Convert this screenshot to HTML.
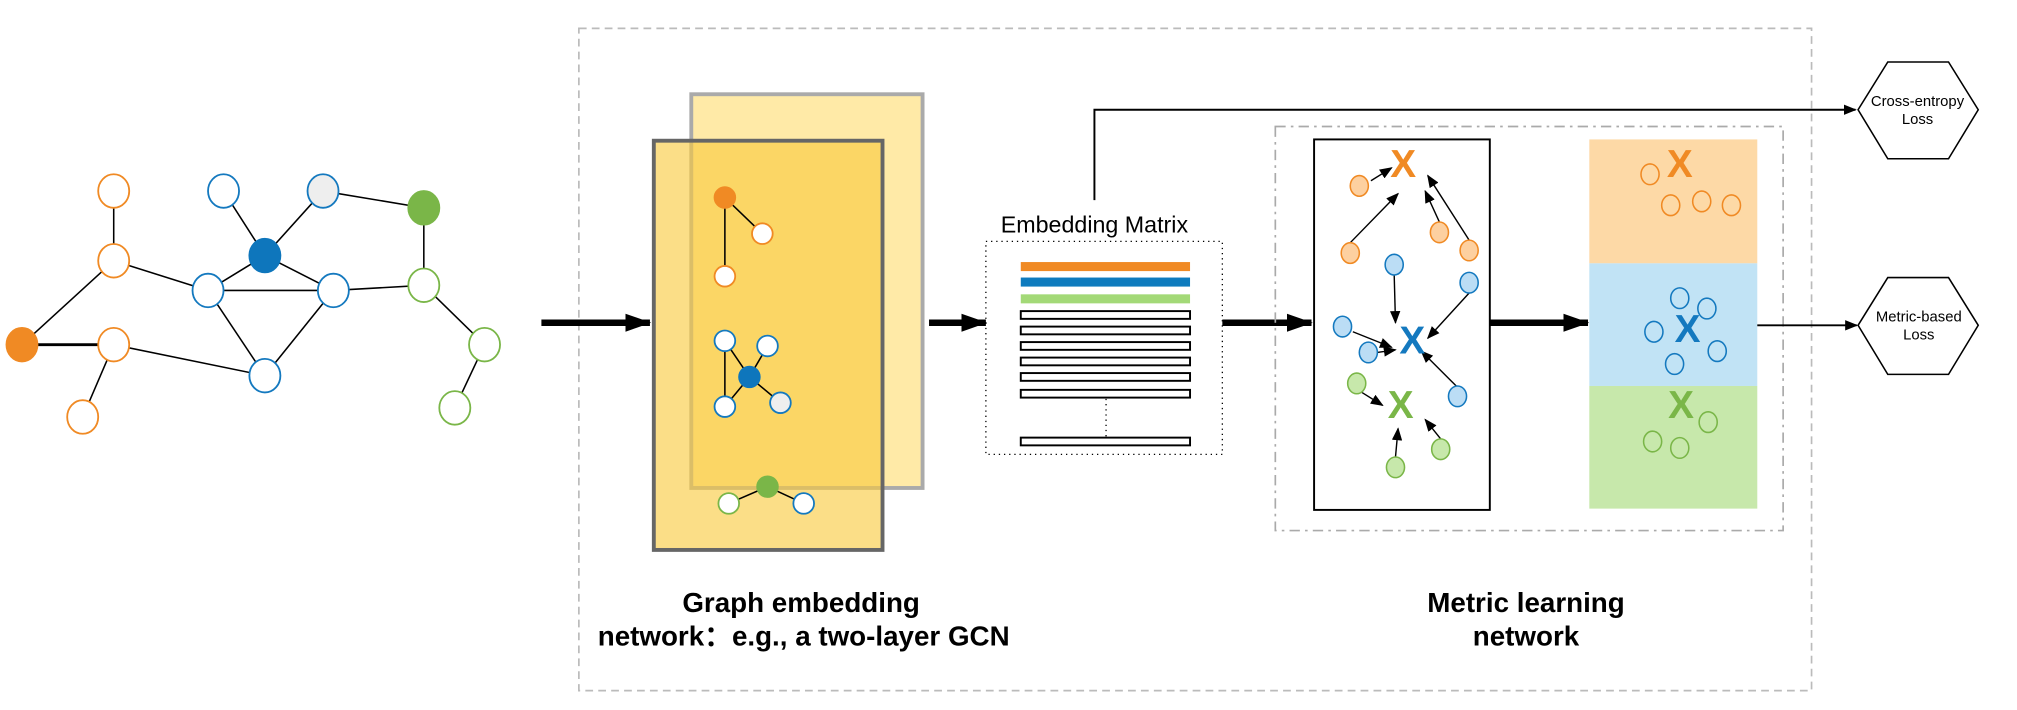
<!DOCTYPE html>
<html><head><meta charset="utf-8"><style>html,body{margin:0;padding:0;background:#fff}svg{display:block}</style></head>
<body>
<svg width="2017" height="710" viewBox="0 0 1561 550" preserveAspectRatio="none" xmlns="http://www.w3.org/2000/svg" font-family="Liberation Sans, sans-serif">
<defs>
<marker id="a" markerWidth="10" markerHeight="8" refX="9" refY="4" orient="auto" markerUnits="userSpaceOnUse"><path d="M0,0 L10,4 L0,8 z" fill="#000"/></marker>
<marker id="b" markerWidth="20" markerHeight="14" refX="19" refY="7" orient="auto" markerUnits="userSpaceOnUse"><path d="M0,0 L20,7 L0,14 z" fill="#000"/></marker>
</defs>
<rect x="448" y="22" width="954" height="513" fill="none" stroke="#bbb" stroke-width="1.3" stroke-dasharray="6,4"/>
<g stroke="#000" stroke-width="1.2">
<line x1="88" y1="148" x2="88" y2="202"/><line x1="88" y1="202" x2="161" y2="225"/><line x1="88" y1="202" x2="17" y2="267"/>
<line x1="17" y1="267" x2="88" y2="267" stroke-width="2.2"/><line x1="88" y1="267" x2="205" y2="291"/><line x1="88" y1="267" x2="64" y2="323"/>
<line x1="173" y1="148" x2="205" y2="198"/><line x1="250" y1="148" x2="205" y2="198"/><line x1="205" y1="198" x2="161" y2="225"/>
<line x1="205" y1="198" x2="258" y2="225"/><line x1="161" y1="225" x2="258" y2="225"/><line x1="161" y1="225" x2="205" y2="291"/>
<line x1="258" y1="225" x2="205" y2="291"/><line x1="258" y1="225" x2="328" y2="221"/><line x1="250" y1="148" x2="328" y2="161"/>
<line x1="328" y1="161" x2="328" y2="221"/><line x1="328" y1="221" x2="375" y2="267"/><line x1="375" y1="267" x2="352" y2="316"/>
</g>
<g stroke-width="1.4">
<ellipse cx="88" cy="148" rx="12" ry="13" fill="#fff" stroke="#F08A24"/>
<ellipse cx="88" cy="202" rx="12" ry="13" fill="#fff" stroke="#F08A24"/>
<ellipse cx="88" cy="267" rx="12" ry="13" fill="#fff" stroke="#F08A24"/>
<ellipse cx="64" cy="323" rx="12" ry="13" fill="#fff" stroke="#F08A24"/>
<ellipse cx="17" cy="267" rx="12" ry="13" fill="#F08A24" stroke="#F08A24"/>
<ellipse cx="173" cy="148" rx="12" ry="13" fill="#fff" stroke="#1479BF"/>
<ellipse cx="161" cy="225" rx="12" ry="13" fill="#fff" stroke="#1479BF"/>
<ellipse cx="258" cy="225" rx="12" ry="13" fill="#fff" stroke="#1479BF"/>
<ellipse cx="205" cy="291" rx="12" ry="13" fill="#fff" stroke="#1479BF"/>
<ellipse cx="250" cy="148" rx="12" ry="13" fill="#eee" stroke="#1479BF"/>
<ellipse cx="205" cy="198" rx="12" ry="13" fill="#0E76BC" stroke="#0E76BC"/>
<ellipse cx="328" cy="161" rx="12" ry="13" fill="#7AB648" stroke="#7AB648"/>
<ellipse cx="328" cy="221" rx="12" ry="13" fill="#fff" stroke="#7AB648"/>
<ellipse cx="375" cy="267" rx="12" ry="13" fill="#fff" stroke="#7AB648"/>
<ellipse cx="352" cy="316" rx="12" ry="13" fill="#fff" stroke="#7AB648"/>
</g>
<line x1="419" y1="250" x2="503" y2="250" stroke="#000" stroke-width="5" marker-end="url(#b)"/>
<rect x="535" y="73" width="179" height="305" fill="#FFEAA7" stroke="#aaa" stroke-width="3"/>
<rect x="506" y="109" width="177" height="317" fill="#F9C93E" fill-opacity="0.62" stroke="#666" stroke-width="3"/>
<g stroke="#000" stroke-width="1.2">
<line x1="561" y1="153" x2="561" y2="214"/><line x1="561" y1="153" x2="590" y2="181"/>
<line x1="561" y1="264" x2="561" y2="315"/><line x1="561" y1="264" x2="580" y2="292"/><line x1="594" y1="268" x2="580" y2="292"/>
<line x1="580" y1="292" x2="561" y2="315"/><line x1="580" y1="292" x2="604" y2="312"/>
<line x1="594" y1="377" x2="564" y2="390"/><line x1="594" y1="377" x2="622" y2="390"/>
</g>
<g stroke-width="1.4">
<ellipse cx="561" cy="153" rx="8" ry="8" fill="#F08A24" stroke="#F08A24"/>
<ellipse cx="590" cy="181" rx="8" ry="8" fill="#fff" stroke="#F08A24"/>
<ellipse cx="561" cy="214" rx="8" ry="8" fill="#fff" stroke="#F08A24"/>
<ellipse cx="561" cy="264" rx="8" ry="8" fill="#fff" stroke="#1479BF"/>
<ellipse cx="594" cy="268" rx="8" ry="8" fill="#fff" stroke="#1479BF"/>
<ellipse cx="561" cy="315" rx="8" ry="8" fill="#fff" stroke="#1479BF"/>
<ellipse cx="604" cy="312" rx="8" ry="8" fill="#eee" stroke="#1479BF"/>
<ellipse cx="580" cy="292" rx="8" ry="8" fill="#0E76BC" stroke="#0E76BC"/>
<ellipse cx="594" cy="377" rx="8" ry="8" fill="#7AB648" stroke="#7AB648"/>
<ellipse cx="564" cy="390" rx="8" ry="8" fill="#fff" stroke="#7AB648"/>
<ellipse cx="622" cy="390" rx="8" ry="8" fill="#fff" stroke="#1479BF"/>
</g>
<line x1="719" y1="250" x2="763" y2="250" stroke="#000" stroke-width="5" marker-end="url(#b)"/>
<text x="847" y="180" font-size="18" text-anchor="middle" fill="#000">Embedding Matrix</text>
<rect x="763" y="187" width="183" height="165" fill="none" stroke="#000" stroke-width="1" stroke-dasharray="1,3"/>
<rect x="790" y="203" width="131" height="7" fill="#F08A24"/>
<rect x="790" y="215" width="131" height="7" fill="#0E7BBE"/>
<rect x="790" y="228" width="131" height="7" fill="#A3D977"/>
<g fill="#fff" stroke="#000" stroke-width="1.5">
<rect x="790" y="241" width="131" height="6"/><rect x="790" y="253" width="131" height="6"/><rect x="790" y="265" width="131" height="6"/>
<rect x="790" y="277" width="131" height="6"/><rect x="790" y="289" width="131" height="6"/><rect x="790" y="302" width="131" height="6"/>
<rect x="790" y="339" width="131" height="6"/>
</g>
<line x1="856" y1="309" x2="856" y2="338" stroke="#000" stroke-width="1" stroke-dasharray="1,3"/>
<polyline points="847,155 847,85 1436,85" fill="none" stroke="#000" stroke-width="1.5" marker-end="url(#a)"/>
<line x1="946" y1="250" x2="1015" y2="250" stroke="#000" stroke-width="5" marker-end="url(#b)"/>
<rect x="987" y="98" width="393" height="313" fill="none" stroke="#aaa" stroke-width="1.3" stroke-dasharray="8,4,2,4"/>
<rect x="1017" y="108" width="136" height="287" fill="#fff" stroke="#000" stroke-width="1.5"/>
<line x1="1153" y1="250" x2="1229" y2="250" stroke="#000" stroke-width="5" marker-end="url(#b)"/>
<rect x="1230" y="108" width="130" height="96" fill="#FDD9A6"/>
<rect x="1230" y="204" width="130" height="95" fill="#C1E3F5"/>
<rect x="1230" y="299" width="130" height="95" fill="#C7E8AB"/>
<line x1="1360" y1="252" x2="1437" y2="252" stroke="#000" stroke-width="1.5" marker-end="url(#a)"/>
<g stroke="#000" stroke-width="1.1" marker-end="url(#a)">
<line x1="1061" y1="140" x2="1077" y2="130"/><line x1="1045" y1="188" x2="1082" y2="150"/><line x1="1114" y1="172" x2="1103" y2="148"/>
<line x1="1137" y1="186" x2="1105" y2="136"/><line x1="1079" y1="213" x2="1080" y2="250"/><line x1="1137" y1="227" x2="1105" y2="262"/>
<line x1="1047" y1="257" x2="1077" y2="269"/><line x1="1066" y1="273" x2="1080" y2="271"/><line x1="1128" y1="300" x2="1100" y2="272"/>
<line x1="1054" y1="304" x2="1070" y2="314"/><line x1="1080" y1="354" x2="1082" y2="332"/><line x1="1115" y1="340" x2="1103" y2="325"/>
</g>
<g stroke-width="1.2">
<g fill="#FDD0A0" stroke="#F08A24"><ellipse cx="1052" cy="144" rx="7" ry="8"/><ellipse cx="1045" cy="196" rx="7" ry="8"/><ellipse cx="1114" cy="180" rx="7" ry="8"/><ellipse cx="1137" cy="194" rx="7" ry="8"/></g>
<g fill="#BBDDF5" stroke="#1479BF"><ellipse cx="1079" cy="205" rx="7" ry="8"/><ellipse cx="1137" cy="219" rx="7" ry="8"/><ellipse cx="1039" cy="253" rx="7" ry="8"/><ellipse cx="1059" cy="273" rx="7" ry="8"/><ellipse cx="1128" cy="307" rx="7" ry="8"/></g>
<g fill="#C7E8AB" stroke="#7AB648"><ellipse cx="1050" cy="297" rx="7" ry="8"/><ellipse cx="1080" cy="362" rx="7" ry="8"/><ellipse cx="1115" cy="348" rx="7" ry="8"/></g>
<g fill="none" stroke="#F08A24"><ellipse cx="1277" cy="135" rx="7" ry="8"/><ellipse cx="1293" cy="159" rx="7" ry="8"/><ellipse cx="1317" cy="156" rx="7" ry="8"/><ellipse cx="1340" cy="159" rx="7" ry="8"/></g>
<g fill="none" stroke="#1479BF"><ellipse cx="1300" cy="231" rx="7" ry="8"/><ellipse cx="1321" cy="239" rx="7" ry="8"/><ellipse cx="1280" cy="257" rx="7" ry="8"/><ellipse cx="1329" cy="272" rx="7" ry="8"/><ellipse cx="1296" cy="282" rx="7" ry="8"/></g>
<g fill="none" stroke="#7AB648"><ellipse cx="1322" cy="327" rx="7" ry="8"/><ellipse cx="1279" cy="342" rx="7" ry="8"/><ellipse cx="1300" cy="347" rx="7" ry="8"/></g>
</g>
<g font-size="30" font-weight="bold" text-anchor="middle">
<text x="1086" y="137" fill="#F08A24">X</text><text x="1093" y="274" fill="#1479BF">X</text><text x="1084" y="324" fill="#7AB648">X</text>
<text x="1300" y="137" fill="#F08A24">X</text><text x="1306" y="265" fill="#1479BF">X</text><text x="1301" y="324" fill="#7AB648">X</text>
</g>
<polygon points="1461,48 1508,48 1531,85 1508,123 1461,123 1438,85" fill="#fff" stroke="#000" stroke-width="1.2"/>
<text x="1484" y="82" font-size="11.5" text-anchor="middle">Cross-entropy</text>
<text x="1484" y="96" font-size="11.5" text-anchor="middle">Loss</text>
<polygon points="1461,215 1508,215 1531,252 1508,290 1461,290 1438,252" fill="#fff" stroke="#000" stroke-width="1.2"/>
<text x="1485" y="249" font-size="11.5" text-anchor="middle">Metric-based</text>
<text x="1485" y="263" font-size="11.5" text-anchor="middle">Loss</text>
<g font-size="21.5" font-weight="bold" text-anchor="middle">
<text x="620" y="474">Graph embedding</text>
<text x="622" y="500">network：e.g., a two-layer GCN</text>
<text x="1181" y="474">Metric learning</text>
<text x="1181" y="500">network</text>
</g>
</svg>
</body></html>
